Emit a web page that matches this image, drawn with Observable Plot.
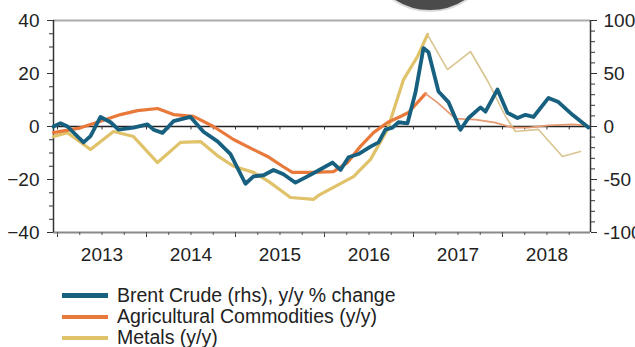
<!DOCTYPE html>
<html><head><meta charset="utf-8">
<script src="https://cdn.jsdelivr.net/npm/d3@7"></script>
<script src="https://cdn.jsdelivr.net/npm/@observablehq/plot@0.6"></script>
<style>
body{margin:0;background:#fff;overflow:hidden;font-family:"Liberation Sans",Arial,sans-serif;}
#wrap{position:relative;width:635px;height:347px;overflow:hidden;background:#fff;}
#badge{position:absolute;left:364px;top:-120px;width:132px;height:132px;border-radius:50%;background:#4b4b4b;border:2px solid #d9d9d9;box-sizing:border-box;z-index:2}
.legend{position:absolute;left:62px;top:285px;}
.row{display:flex;align-items:center;height:21px;font-size:19.5px;color:#222;white-space:nowrap;}
.row .tx{display:inline-block;height:21px;line-height:21px;}
.sw{width:46px;height:4px;margin-right:9px;}
</style>
</head><body>
<div id="wrap">
  <div id="chart"></div>
  <div id="badge"></div>
  <div class="legend" id="legend"></div>
</div>
<script>
// ---- data (decimal years) ----
const seriesNames = ["Brent Crude (rhs), y/y % change", "Agricultural Commodities (y/y)", "Metals (y/y)"];

const brentT = [2012.955, 2013.034, 2013.112, 2013.292, 2013.371, 2013.483, 2013.596, 2013.685, 2013.854,
  2014.011, 2014.079, 2014.180, 2014.303, 2014.494, 2014.640, 2014.798, 2014.944,
  2015.112, 2015.202, 2015.315, 2015.427, 2015.539, 2015.674, 2015.809, 2015.921,
  2016.090, 2016.180, 2016.270, 2016.382, 2016.517, 2016.607, 2016.685, 2016.764, 2016.831, 2016.933,
  2017.022, 2017.112, 2017.169, 2017.281, 2017.393, 2017.528, 2017.618, 2017.753, 2017.809, 2017.944,
  2018.056, 2018.169, 2018.258, 2018.348, 2018.517, 2018.629, 2018.787, 2018.966];
const brentV = [0, 3, 0, -15, -9, 9, 4, -3, -1,
  2, -3, -6, 5, 9, -5, -14, -26,
  -54, -47, -46, -41, -45, -53, -47, -42,
  -34, -41, -29, -26, -19, -15, -3, -1, 4, 3,
  32, 74, 70, 33, 23, -3, 8, 18, 14, 35,
  13, 8, 11, 9, 27, 23, 11, -1];

const agriT = [2012.955, 2013.258, 2013.483, 2013.708, 2013.899, 2014.124, 2014.303, 2014.528, 2014.753, 2014.978,
  2015.202, 2015.360, 2015.528, 2015.640, 2015.865, 2016.101, 2016.258, 2016.404, 2016.551, 2016.708,
  2016.854, 2016.944, 2017.135, 2017.270, 2017.472, 2017.697, 2017.921, 2018.112, 2018.292, 2018.517,
  2018.787, 2018.899];
const agriV = [-2.3, -0.5, 2, 4.5, 6, 6.8, 4.5, 3.8, 0, -4.9,
  -8.7, -11.3, -15, -17.3, -17.3, -17, -13.6, -7.5, -2.3, 1.5,
  3.8, 5.3, 12.4, 9, 3, 2.6, 1.5, -0.4, -0.4, 0.4,
  0.8, 0.5];

const metalsT = [2012.955, 2013.112, 2013.371, 2013.629, 2013.854, 2014.124, 2014.382, 2014.607, 2014.809, 2014.978,
  2015.202, 2015.371, 2015.618, 2015.876, 2015.933, 2016.326, 2016.517, 2016.708, 2016.888, 2017.045,
  2017.157, 2017.382, 2017.640, 2017.843, 2018.034, 2018.146, 2018.404, 2018.674, 2018.876];
const metalsV = [-3.8, -2.3, -8.7, -1.9, -3.8, -13.6, -6, -5.7, -11.3, -15,
  -17.3, -20.7, -26.8, -27.5, -26, -18.9, -12.4, -1.1, 17.7, 26.4,
  34.7, 21.5, 28.3, 16.6, 3.8, -1.9, -1.1, -11.3, -9.4];

const yearLabels = [2013, 2014, 2015, 2016, 2017, 2018];
const leftTicks = [-40, -20, 0, 20, 40];
const rhsFactor = 2.5; // right axis (-100..100) vs left axis (-40..40)

// ---- build ----
const xDomain = [2012.955, 2018.989];
const yDomain = [-40, 40];
const toRows = (T, V) => T.map((t, i) => ({t, v: V[i]}));
const brent = toRows(brentT, brentV);
const agri = toRows(agriT, agriV);
const metals = toRows(metalsT, metalsV);
const agriPeak = agri[d3.maxIndex(agri, d => d.v)].t;
const metalsPeak = metals[d3.maxIndex(metals, d => d.v)].t;

const colors = ["#17607f", "#e8793b", "#dfc269"];
const quarters = d3.range(yearLabels[0] * 4, (yearLabels[yearLabels.length - 1] + 1) * 4 + 1).map(q => q / 4).filter(q => q <= xDomain[1]);
const yearTicks = yearLabels.concat([yearLabels[yearLabels.length - 1] + 1]).filter(y => y <= xDomain[1]);

const chart = Plot.plot({
  width: 635, height: 265,
  marginLeft: 53, marginRight: 45, marginTop: 20, marginBottom: 33,
  x: {domain: xDomain},
  y: {domain: yDomain},
  style: {fontFamily: "'Liberation Sans', Arial, sans-serif", fontSize: "19px", color: "#222", background: "transparent", overflow: "visible"},
  marks: [
    Plot.ruleY([yDomain[1]], {stroke: "#aaa", strokeWidth: 2}),
    Plot.ruleY([yDomain[0]], {stroke: "#8a8a8a", strokeWidth: 2}),
    Plot.ruleX([xDomain[0]], {stroke: "#333", strokeWidth: 1.5}),
    Plot.ruleX([xDomain[1]], {stroke: "#333", strokeWidth: 1.5}),
    Plot.ruleY([0], {stroke: "#222", strokeWidth: 1.5}),
    Plot.ruleX(quarters, {x: d => d, y1: 0, y2: -1.3, stroke: "#333", strokeWidth: 1}),
    Plot.axisY({anchor: "left", ticks: leftTicks, tickSize: 6, tickPadding: 8, label: null, stroke: "#333"}),
    Plot.axisY({anchor: "left", ticks: d3.range(-40, 41, 5), tickSize: 4, tickFormat: () => "", label: null, stroke: "#333"}),
    Plot.axisY({anchor: "right", ticks: leftTicks, tickSize: 6, tickPadding: 7, tickFormat: d => String(d * rhsFactor), label: null, stroke: "#333"}),
    Plot.axisY({anchor: "right", ticks: d3.range(-40, 41, 4), tickSize: 4, tickFormat: () => "", label: null, stroke: "#333"}),
    Plot.axisX({ticks: yearTicks, tickSize: 5, tickFormat: () => "", label: null, stroke: "#333"}),
    Plot.axisX({ticks: quarters, tickSize: 3, tickFormat: () => "", label: null, stroke: "#555"}),
    Plot.axisX({ticks: yearLabels.map(y => y + 0.5), tickSize: 0, tickPadding: 15, tickFormat: d => String(Math.floor(d)), label: null}),
    Plot.line(metals.filter(d => d.t <= metalsPeak), {x: "t", y: "v", stroke: colors[2], strokeWidth: 3.2, strokeLinejoin: "round"}),
    Plot.line(metals.filter(d => d.t >= metalsPeak), {x: "t", y: "v", stroke: "#d9c490", strokeWidth: 1.6, strokeLinejoin: "round"}),
    Plot.line(agri.filter(d => d.t <= agriPeak), {x: "t", y: "v", stroke: colors[1], strokeWidth: 3.2, strokeLinejoin: "round"}),
    Plot.line(agri.filter(d => d.t >= agriPeak), {x: "t", y: "v", stroke: "#e59a72", strokeWidth: 1.8, strokeLinejoin: "round"}),
    Plot.line(brent, {x: "t", y: d => d.v / rhsFactor, stroke: colors[0], strokeWidth: 3.8, strokeLinejoin: "round"})
  ]
});
document.getElementById("chart").appendChild(chart);

const legend = document.getElementById("legend");
seriesNames.forEach((name, i) => {
  const row = document.createElement("div");
  row.className = "row";
  const sw = document.createElement("span");
  sw.className = "sw";
  sw.style.background = colors[i];
  if (i === 0) sw.style.height = "5px";
  const tx = document.createElement("span");
  tx.className = "tx";
  tx.textContent = name;
  row.appendChild(sw);
  row.appendChild(tx);
  legend.appendChild(row);
});
</script>
</body></html>
